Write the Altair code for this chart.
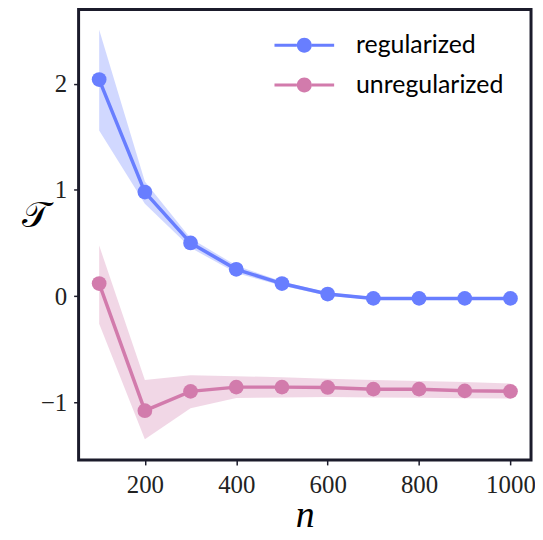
import altair as alt
import pandas as pd

n_values = [100, 200, 300, 400, 500, 600, 700, 800, 900, 1000]

reg_mean = [2.04, 0.98, 0.50, 0.252, 0.118, 0.019, -0.022, -0.022, -0.022, -0.022]
reg_lo = [1.56, 0.87, 0.455, 0.217, 0.098, 0.004, -0.034, -0.034, -0.034, -0.034]
reg_hi = [2.51, 1.08, 0.545, 0.287, 0.138, 0.034, -0.010, -0.010, -0.010, -0.010]

unreg_mean = [0.118, -1.08, -0.898, -0.858, -0.858, -0.861, -0.877, -0.877, -0.893, -0.898]
unreg_lo = [-0.26, -1.35, -1.057, -0.961, -0.955, -0.950, -0.955, -0.958, -0.962, -0.966]
unreg_hi = [0.476, -0.79, -0.746, -0.755, -0.765, -0.778, -0.790, -0.800, -0.810, -0.825]

series_names = ["regularized", "unregularized"]
series_colors = ["#687EFF", "#D27BAC"]

rows = []
for name, m, lo, hi in [
    (series_names[0], reg_mean, reg_lo, reg_hi),
    (series_names[1], unreg_mean, unreg_lo, unreg_hi),
]:
    for i, n in enumerate(n_values):
        rows.append({"series": name, "n": n, "value": m[i], "lo": lo[i], "hi": hi[i]})
df = pd.DataFrame(rows)

legend_path = (
    "M-2,-0.1L-0.5,-0.1L-0.5,0.1L-2,0.1Z "
    "M0.5,-0.1L2,-0.1L2,0.1L0.5,0.1Z "
    "M-0.5,0A0.5,0.5 0 1,0 0.5,0A0.5,0.5 0 1,0 -0.5,0Z"
)

color_enc = alt.Color(
    "series:N",
    scale=alt.Scale(domain=series_names, range=series_colors),
    legend=alt.Legend(
        title=None,
        orient="none",
        legendX=212,
        legendY=21,
        symbolType=legend_path,
        symbolSize=900,
        symbolStrokeWidth=0,
        symbolOpacity=1,
        labelFont="Lato",
        labelFontSize=25,
        labelColor="#000000",
        labelOffset=37,
        rowPadding=12,
        padding=0,
    ),
)

x_enc = alt.X(
    "n:Q",
    scale=alt.Scale(domain=[55, 1045], nice=False, zero=False),
    axis=alt.Axis(
        values=[200, 400, 600, 800, 1000],
        format="d",
        title="n",
        titleFont="Liberation Serif",
        titleFontStyle="italic",
        titleFontWeight="normal",
        titleFontSize=38,
        titleY=67,
        titleBaseline="alphabetic",
        labelPadding=8,
    ),
)
y_scale = alt.Scale(domain=[-1.544, 2.70], nice=False, zero=False)

base = alt.Chart(df)

band = base.mark_area(opacity=0.3).encode(
    x=x_enc,
    y=alt.Y("lo:Q", scale=y_scale),
    y2="hi:Q",
    color=color_enc,
)

line = base.mark_line(strokeWidth=3.5).encode(
    x=x_enc,
    y=alt.Y("value:Q", scale=y_scale),
    color=color_enc,
)

points = base.mark_point(filled=True, size=220, opacity=1).encode(
    x=x_enc,
    y=alt.Y(
        "value:Q",
        scale=y_scale,
        axis=alt.Axis(
            values=[-1, 0, 1, 2],
            format="d",
            title="𝒯",
            titleAngle=0,
            titleFont="DejaVu Serif",
            titleFontWeight="normal",
            titleFontSize=36,
            titleAlign="center",
            titleBaseline="middle",
            titleX=-43,
            titleY=207,
            labelPadding=7,
        ),
    ),
    color=color_enc,
)

chart = (
    alt.layer(band, line, points)
    .resolve_legend(color="shared")
    .properties(
        width=455,
        height=453,
        autosize=alt.AutoSizeParams(type="none"),
        padding={"left": 71, "top": 0, "right": 4, "bottom": 76},
    )
    .configure_view(stroke="#1b1b2b", strokeWidth=3)
    .configure_axis(
        grid=False,
        domain=False,
        ticks=True,
        tickSize=5,
        tickWidth=1.5,
        tickColor="#1b1b2b",
        labelFont="Liberation Serif",
        labelFontSize=25,
        labelColor="#222222",
        titleColor="#000000",
    )
)

chart.save("out.html", embed_options={"renderer": "svg", "actions": False})
